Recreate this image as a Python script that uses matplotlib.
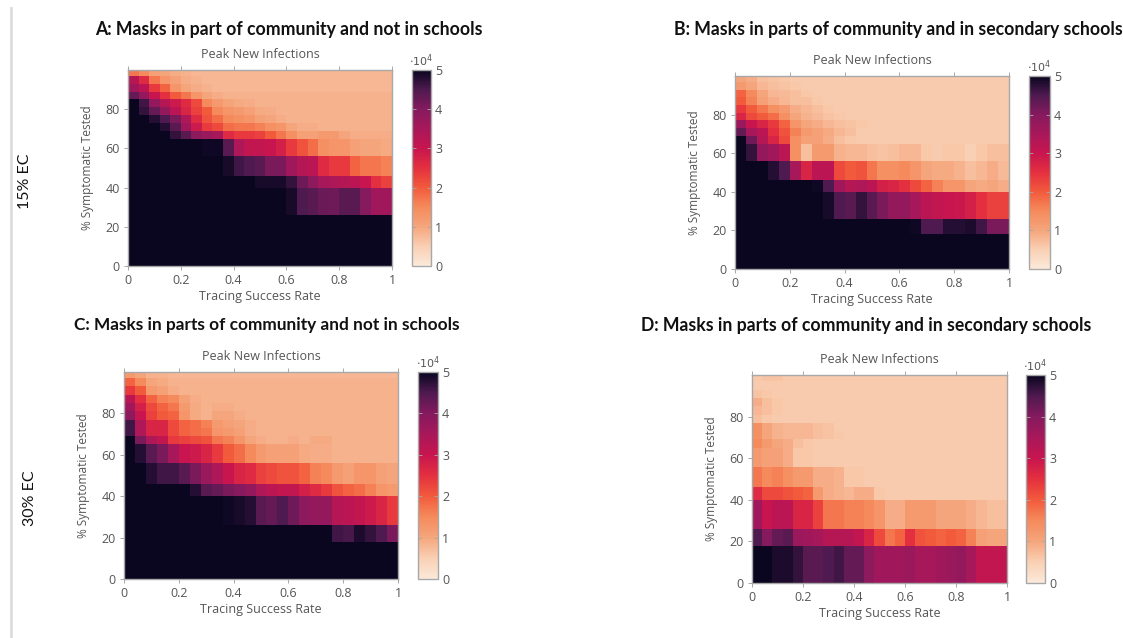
import numpy as np
import matplotlib
matplotlib.use('Agg')
import matplotlib.pyplot as plt
from matplotlib.colors import LinearSegmentedColormap

plt.rcParams['font.family'] = ['Open Sans', 'DejaVu Sans']

W, H = 1123, 638
N = 25

# row edges of the grid, % symptomatic tested
y_edges = [0, 18, 26, 40, 46, 56, 65, 69, 73, 77, 81, 85, 89, 93, 97, 100]
x_edges = [0, .04, .08, .12, .16, .2, .24, .28, .32, .36, .4, .44, .48, .52, .56, .6, .64, .68, .72, .76, .8, .84, .88, .92, .96, 1]
x_ticks = [0, .2, .4, .6, .8, 1]
x_labels = ['0', '0.2', '0.4', '0.6', '0.8', '1']
y_ticks = [0, 20, 40, 60, 80]
cbar_ticks = [0, 1, 2, 3, 4, 5]

titles = ['A: Masks in part of community and not in schools',
          'B: Masks in parts of community and in secondary schools',
          'C: Masks in parts of community and not in schools',
          'D: Masks in parts of community and in secondary schools']

# colours, value / 5
cmap_stops = [(0, '#fbe9da'), (.1, '#f9cfb3'), (.2, '#f5a57c'), (.3, '#f58a5c'), (.4, '#f25a3c'),
              (.5, '#e4303f'), (.6, '#c8154f'), (.7, '#a8185a'), (.8, '#851a5e'), (.9, '#4f1a50'), (1, '#0a0620')]


def pad(vals):
    # rows are typed left to right, the rest of the row keeps the last value
    return vals + [vals[-1]] * (N - len(vals))


# peak new infections in 10^4, rows from the top of the panel down
panel_a = [
    [1.7, 1.5, 1.1, 1.0, .9, .85, .8],
    [3.3, 2.6, 1.7, 1.3, 1.1, .9, .85, .8],
    [3.6, 3.2, 2.4, 1.9, 1.3, 1.0, .9, .85, .8],
    [4.3, 3.8, 3.0, 2.5, 2.0, 1.7, 1.3, 1.0, .9, .85],
    [5, 4.6, 3.8, 3.3, 2.9, 2.6, 2.2, 1.5, 1.2, 1.05, .95, .9, .85],
    [5, 4.7, 4.3, 3.8, 3.2, 2.7, 2.3, 2.0, 1.5, 1.3, 1.2, 1.1, .95, .9, .85],
    [5, 5, 4.8, 4.5, 4.1, 3.4, 2.6, 2.1, 1.8, 1.5, 1.4, 1.3, 1.1, 1.0, .9, .85],
    [5, 5, 5, 4.8, 4.4, 3.6, 2.9, 2.4, 2.2, 1.8, 1.7, 1.7, 1.6, 1.4, 1.3, 1.0, .9, .9, .85],
    [5, 5, 5, 5, 4.7, 4.4, 3.9, 3.7, 3.5, 2.6, 2.4, 2.4, 2.3, 2.0, 1.7, 1.4, 1.1, 1.1, 1.2, 1.2, 1.0, .9],
    [5, 5, 5, 5, 5, 5, 5, 4.95, 4.95, 4.4, 3.4, 3.1, 3.1, 3.0, 2.8, 2.4, 2.1, 1.8, 1.4, 1.3, 1.3, 1.1, 1.0, 1.0, .95],
    [5, 5, 5, 5, 5, 5, 5, 5, 5, 4.9, 4.6, 4.5, 4.4, 4.1, 4.1, 3.6, 3.3, 3.2, 2.6, 2.4, 2.4, 1.9, 1.7, 1.7, 1.6],
    [5, 5, 5, 5, 5, 5, 5, 5, 5, 5, 5, 5, 4.9, 4.9, 4.9, 4.7, 4.2, 3.9, 3.5, 3.4, 3.3, 3.2, 3.0, 2.5, 2.3],
    [5, 5, 5, 5, 5, 5, 5, 5, 5, 5, 5, 5, 5, 5, 5, 4.9, 4.5, 4.4, 4.25, 4.2, 4.4, 4.4, 4.0, 3.6, 3.6],
    [5],
    [5],
]

panel_b = [
    [1.0, .9, .7, .65, .6, .55],
    [1.2, 1.0, .8, .7, .65, .6, .55],
    [1.9, 1.5, 1.0, .8, .75, .7, .6, .55],
    [2.0, 1.6, 1.1, .9, .8, .7, .7, .6, .55],
    [2.4, 2.0, 1.7, 1.4, 1.2, .9, .8, .7, .6, .55],
    [2.7, 2.2, 2.0, 1.8, 1.4, 1.0, .85, .75, .65, .6, .55],
    [3.7, 3.0, 2.7, 2.4, 1.9, 1.3, 1.0, .9, .8, .7, .65, .6, .55],
    [4.3, 3.5, 3.2, 2.5, 2.1, 1.6, 1.2, 1.1, .95, .8, .7, .55],
    [5, 4.2, 3.3, 2.7, 2.2, 1.4, 1.1, 1.1, .9, .7, .6, .55],
    [5, 4.7, 3.8, 3.6, 3.2, 1.4, .7, 1.2, 1.2, .85, .8, .8, .7, .65, .7, .8, .8, .6, .55, .6, .6, .5, .6, .7, .7],
    [5, 5, 5, 4.8, 4.5, 3.5, 2.7, 3.2, 3.2, 2.2, 2.0, 2.1, 1.7, 1.4, 1.4, 1.5, 1.3, 1.0, .95, .95, .85, .7, .8, .9, .75],
    [5, 5, 5, 5, 5, 5, 5, 4.95, 4.5, 3.6, 3.3, 3.4, 3.2, 2.8, 2.7, 2.5, 2.2, 1.9, 1.6, 1.3, 1.3, 1.0, .95, 1.0, .9],
    [5, 5, 5, 5, 5, 5, 5, 5, 4.9, 4.5, 4.4, 4.7, 4.4, 4.1, 3.8, 3.8, 3.5, 3.2, 3.1, 3.0, 2.95, 2.8, 2.5, 2.3, 2.3],
    [5, 5, 5, 5, 5, 5, 5, 5, 5, 5, 5, 5, 5, 5, 5, 5, 4.95, 4.5, 4.5, 4.8, 4.8, 4.85, 4.6, 4.1, 4.1],
    [5],
]

panel_c = [
    [1.2, 1.0, .85, .85, .8],
    [1.9, 1.5, 1.0, .95, .85],
    [2.4, 2.0, 1.2, 1.1, .9, .85],
    [3.2, 2.5, 1.9, 1.6, 1.5, 1.1, .9, .85],
    [3.6, 2.8, 2.2, 1.9, 1.7, 1.2, .95, .85, .9, .9, .85],
    [3.9, 3.0, 2.3, 2.0, 1.9, 1.3, .95, .85, 1.0, 1.0, .9, .85],
    [4.6, 3.4, 2.7, 2.7, 2.2, 1.9, 1.8, 1.6, 1.2, 1.1, 1.0, .9, .85],
    [4.6, 3.4, 2.7, 2.7, 2.2, 1.9, 1.8, 1.7, 1.3, 1.2, 1.1, .9, .85],
    [5, 4.1, 3.4, 3.1, 2.4, 2.3, 2.2, 2.1, 1.7, 1.6, 1.3, 1.0, .9, .85, .85, .9, .85, .95, .95, .85],
    [5, 4.8, 4.4, 4.1, 3.5, 3.0, 2.9, 2.7, 2.4, 2.0, 1.8, 1.5, 1.2, 1.1, 1.1, 1.1, .95, .9, .9, .85],
    [5, 5, 4.8, 4.6, 4.6, 4.4, 4.1, 3.7, 3.4, 3.0, 2.7, 2.6, 2.3, 2.2, 2.1, 2.1, 1.9, 1.6, 1.5, 1.2, 1.1, 1.3, 1.3, 1.1, 1.0],
    [5, 5, 5, 5, 5, 5, 4.8, 4.4, 4.3, 4.1, 4.0, 3.8, 3.4, 3.2, 3.1, 3.1, 2.8, 2.6, 2.4, 2.1, 1.9, 1.8, 1.6, 1.3, 1.2],
    [5, 5, 5, 5, 5, 5, 5, 5, 5, 4.95, 4.9, 4.8, 4.4, 4.3, 4.5, 4.2, 3.9, 3.8, 3.8, 3.3, 3.2, 3.1, 2.9, 2.7, 2.4],
    [5, 5, 5, 5, 5, 5, 5, 5, 5, 5, 5, 5, 5, 5, 5, 5, 5, 5, 5, 4.6, 4.55, 4.85, 4.7, 4.5, 4.1],
    [5],
]

panel_d = [
    [.6, .65, .65, .55],
    [.55],
    [.65, .6, .55],
    [.9, .7, .6, .55],
    [.8, .7, .6, .55],
    [.7, .6, .55],
    [1.4, 1.0, .85, .8, .8, .8, .7, .65, .55],
    [1.4, 1.0, .85, .8, .8, .8, .7, .65, .6, .55],
    [1.5, 1.2, 1.0, .9, .7, .6, .55],
    [1.2, 1.1, 1.1, .9, .6, .6, .55],
    [1.7, 1.5, 1.6, 1.4, 1.2, 1.2, .9, .9, .85, .6, .6, .55],
    [2.6, 2.2, 2.2, 2.1, 2.0, 1.9, 1.2, .9, .85, .8, .9, .9, .6, .55],
    [3.6, 3.0, 3.2, 3.2, 2.7, 2.7, 2.3, 1.7, 1.7, 1.6, 1.6, 1.5, 1.3, .9, .9, 1.2, 1.2, 1.2, 1.0, 1.0, 1.0, .9, .8, .7, .7],
    [4.5, 4.0, 4.3, 4.4, 3.7, 3.6, 3.5, 3.3, 3.3, 3.3, 3.1, 2.7, 2.2, 1.7, 1.9, 2.5, 2.1, 2.0, 1.9, 2.0, 1.9, 1.6, 1.1, 1.0, 1.0],
    [5, 5, 4.85, 4.85, 4.7, 4.4, 4.4, 4.5, 4.6, 4.3, 4.3, 3.9, 3.6, 3.6, 3.6, 3.7, 3.5, 3.5, 3.6, 3.7, 3.8, 3.5, 3.1, 3.1, 3.1],
]

panels = [panel_a, panel_b, panel_c, panel_d]

# pixel boxes (left, top, right, bottom) for the heatmaps and the colour bars
boxes = [(128, 70, 392, 266), (735, 76, 1009, 269), (124, 372, 398, 579), (752, 375, 1007, 583)]
bar_boxes = [(412, 70, 431, 266), (1029, 76, 1050, 269), (418, 372, 438, 579), (1026, 375, 1045, 583)]
title_pos = [(289, 29), (898, 29), (267, 325), (866, 325)]
title_size = [12.7, 12.7, 12.4, 12.7]

cmap = LinearSegmentedColormap.from_list('peak', cmap_stops)
GREY = '#555555'
EDGE = '#a8a8a8'


def px_axes(fig, box):
    l, t, r, b = box
    return fig.add_axes([l / W, 1 - b / H, (r - l) / W, (b - t) / H])


fig = plt.figure(figsize=(W / 100, H / 100), dpi=100)

# grey rule down the left edge of the slide
fig.add_artist(plt.Line2D([11.5 / W, 11.5 / W], [0, 1 - 8 / H], color='#dddddd', lw=2))

for i in range(4):
    ax = px_axes(fig, boxes[i])
    z = np.array([pad(r) for r in panels[i]])[::-1]
    mesh = ax.pcolormesh(x_edges, y_edges, z, cmap=cmap, vmin=0, vmax=5, rasterized=True)
    ax.set_xlim(0, 1)
    ax.set_ylim(0, 100)
    ax.set_xticks(x_ticks, x_labels)
    ax.set_yticks(y_ticks)
    ax.tick_params(axis='both', labelsize=9, colors=GREY, length=3, width=.7, direction='out', top=True, pad=3)
    ax.tick_params(axis='x', color=EDGE)
    ax.tick_params(axis='y', color=EDGE)
    ax.set_xlabel('Tracing Success Rate', fontsize=9, color=GREY, labelpad=2)
    ax.set_ylabel('% Symptomatic Tested', fontsize=8.5, color=GREY, labelpad=8)
    ax.set_title('Peak New Infections', fontsize=9, color=GREY, pad=9)
    for s in ax.spines.values():
        s.set_color(EDGE)
        s.set_linewidth(1)

    cax = px_axes(fig, bar_boxes[i])
    cb = fig.colorbar(mesh, cax=cax, ticks=cbar_ticks)
    cb.ax.tick_params(labelsize=9, colors=GREY, length=3, width=.6, direction='in', left=True, right=True, pad=3)
    cb.ax.tick_params(axis='y', color=EDGE)
    cb.outline.set_edgecolor(EDGE)
    cb.outline.set_linewidth(1)
    cax.text(0.5, 1.005, r'$\cdot 10^4$', transform=cax.transAxes, fontsize=8, color=GREY, ha='center', va='bottom')

    fig.text(title_pos[i][0] / W, 1 - title_pos[i][1] / H, titles[i], fontsize=title_size[i], fontweight='bold',
             color='#111111', ha='center', va='center', family=['Lato', 'DejaVu Sans'])

fig.text(25 / W, 1 - 181 / H, '15% EC', fontsize=11.5, rotation=90, ha='center', va='center', color='#111111', family=['Lato', 'DejaVu Sans'])
fig.text(30 / W, 1 - 498 / H, '30% EC', fontsize=11.5, rotation=90, ha='center', va='center', color='#111111', family=['Lato', 'DejaVu Sans'])

fig.savefig('out.png', dpi=100)
